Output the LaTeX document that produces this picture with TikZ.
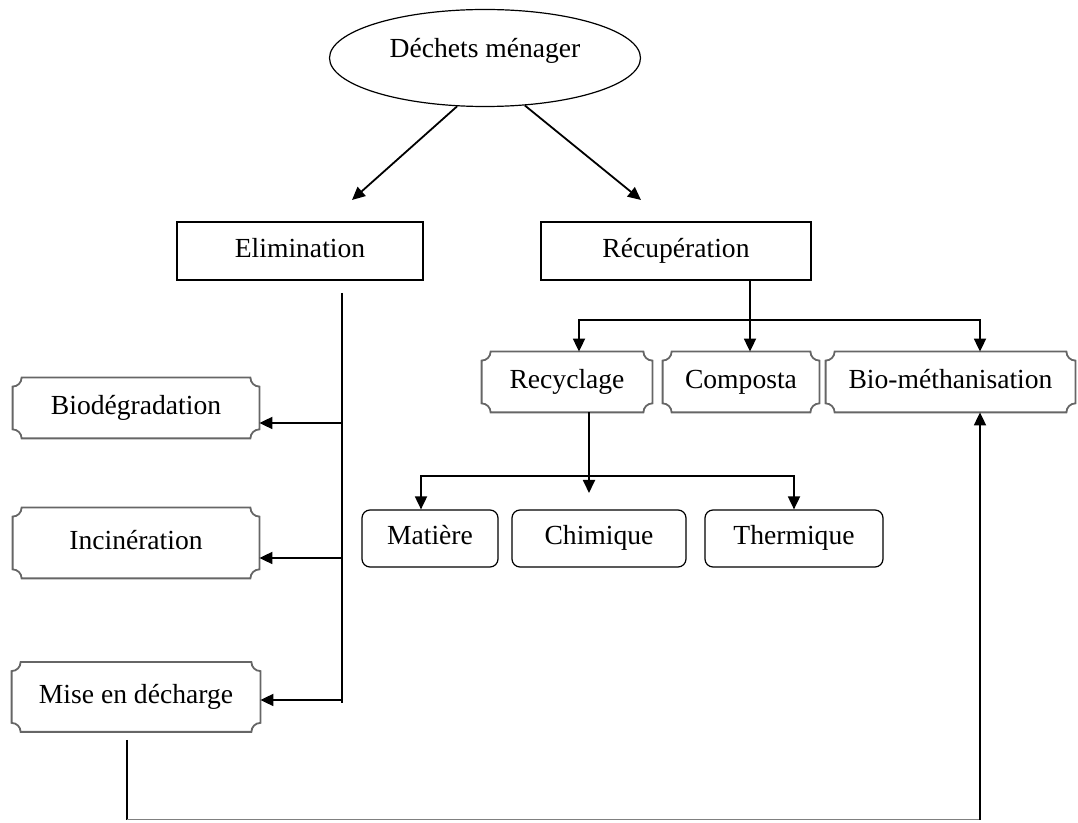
\documentclass[tikz,border=0pt]{standalone}
\usepackage{fontspec}
\setmainfont{Liberation Serif}
\usetikzlibrary{shapes.geometric,arrows.meta}

\begin{document}
\begin{tikzpicture}[x=0.5pt,y=-0.5pt,
	every node/.style={font=\fontsize{13.8}{16}\selectfont,text height=9.5pt,text depth=3pt},
	arr/.style={line width=0.9pt,-{Triangle[length=6.5pt,width=6pt]}},
	larr/.style={line width=0.9pt,{Triangle[length=6.5pt,width=6pt]}-},
	plainbox/.style={draw,line width=0.8pt,minimum height=29pt},
	plaque/.style={minimum height=30pt,inner sep=0pt},
	plaqueline/.style={draw=black!60,line width=0.9pt},
	rbox/.style={draw,line width=0.6pt,rounded corners=4pt,minimum height=28.5pt}]
				\useasboundingbox (0,0) rectangle (1078,823);
				
				\node [draw,ellipse,line width=0.6pt,minimum width=155.5pt,minimum height=48.5pt,inner sep=0pt,text height=9pt,text depth=9.5pt] (dech) at (485,58) {Déchets ménager};
				
				\node [plainbox,minimum width=123pt] (elim) at (300,251) {Elimination};
				\node [plainbox,minimum width=135pt] (recu) at (676,251) {Récupération};
				
				\node [plaque,minimum width=123pt] (bio) at (136,408) {Biodégradation};
				\node [plaque,minimum width=123pt,minimum height=35pt] (inci) at (136,543) {Incinération};
				\node [plaque,minimum width=124pt,minimum height=34.5pt] (mise) at (136,697) {Mise en décharge};
				
				\node [plaque,minimum width=85pt] (recy) at (567,382) {Recyclage};
				\node [plaque,minimum width=78pt] (comp) at (741,382) {Composta};
				\node [plaque,minimum width=124.5pt] (bioM) at (950.5,382) {Bio-méthanisation};
				
				\node [rbox,minimum width=68pt] (mat) at (430,538.5) {Matière};
				\node [rbox,minimum width=87pt] (chim) at (599,538.5) {Chimique};
				\node [rbox,minimum width=89pt] (therm) at (794,538.5) {Thermique};
				
				\foreach \n in {bio,inci,mise,recy,comp,bioM}
					\draw [plaqueline] ([yshift=-4.5pt]\n.north west) arc [start angle=-90,end angle=0,radius=4.5pt] -- ([xshift=-4.5pt]\n.north east) arc [start angle=180,end angle=270,radius=4.5pt] -- ([yshift=4.5pt]\n.south east) arc [start angle=90,end angle=180,radius=4.5pt] -- ([xshift=4.5pt]\n.south west) arc [start angle=0,end angle=90,radius=4.5pt] -- cycle;
				
				% % % % % % % % % % % % % % % % % % % % % % % % % %
				
				\coordinate (elimtip) at (352,200);
				\coordinate (recutip) at (641,200);
				\draw [arr] (dech.240) -- (elimtip);
				\draw [arr] (dech.310) -- (recutip);
				
				\coordinate (elimtop) at (342,293);
				\coordinate (elimbot) at (342,703);
				\draw [line width=0.9pt] (elimtop) -- (elimbot);
				\foreach \n/\d in {bio/-7.5pt,inci/-7.5pt,mise/-1.5pt}
					\draw [larr] ([yshift=\d]\n.east) -- ([yshift=\d]\n.east -| elimtop);
				
				\coordinate (rsplit) at (750,320);
				\draw [arr] (rsplit |- recu.south) -- (rsplit |- comp.north);
				\draw [arr] (rsplit) -| ([xshift=6pt]recy.north);
				\draw [arr] (rsplit) -| ([xshift=14.75pt]bioM.north);
				
				\coordinate (csplit) at (589,476);
				\coordinate (chimtip) at (589,493);
				\draw [arr] ([xshift=11pt]recy.south) -- (chimtip);
				\draw [arr] (csplit) -| ([xshift=-4.5pt]mat.north);
				\draw [arr] (csplit) -| (therm.north);
				
				\coordinate (loopL) at (127,740);
				\coordinate (loopB) at (127,820);
				\coordinate (bmin) at ([xshift=14.75pt]bioM.south);
				\draw [line width=0.9pt] (loopL) -- (loopB);
				\draw [black!50,line width=0.5pt] (loopB) -- (loopB -| bmin);
				\draw [arr] (loopB -| bmin) -- (bmin);
\end{tikzpicture}
\end{document}
